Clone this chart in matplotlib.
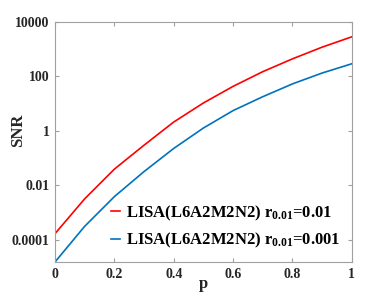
import numpy as np
import matplotlib
matplotlib.use("Agg")
import matplotlib.pyplot as plt

p = [0.0, 0.1, 0.2, 0.3, 0.4, 0.5, 0.6, 0.7, 0.8, 0.9, 1.0]
log_snr_r001 = [-3.78, -2.50, -1.41, -0.53, 0.32, 1.02, 1.63, 2.17, 2.64, 3.07, 3.45]
log_snr_r0001 = [-4.82, -3.51, -2.42, -1.50, -0.65, 0.10, 0.74, 1.25, 1.72, 2.12, 2.46]
snr_r001 = [10 ** v for v in log_snr_r001]
snr_r0001 = [10 ** v for v in log_snr_r0001]
labels = [r"LISA(L6A2M2N2) r$_{\mathbf{0.01}}$=0.01",
          r"LISA(L6A2M2N2) r$_{\mathbf{0.01}}$=0.001"]
yticks = [1e-4, 1e-2, 1, 1e2, 1e4]
yticklabels = ["0.0001", "0.01", "1", "100", "10000"]
xticks = [0, 0.2, 0.4, 0.6, 0.8, 1]
xticklabels = ["0", "0.2", "0.4", "0.6", "0.8", "1"]

plt.rcParams['font.family'] = ['Liberation Serif', 'DejaVu Serif']
plt.rcParams['font.weight'] = 'bold'
plt.rcParams['mathtext.fontset'] = 'custom'
plt.rcParams['mathtext.rm'] = 'Liberation Serif:bold'
plt.rcParams['mathtext.bf'] = 'Liberation Serif:bold'
plt.rcParams['mathtext.it'] = 'Liberation Serif:bold'

fig = plt.figure(figsize=(3.82, 2.95), dpi=100)
ax = fig.add_axes([0.144, 0.112, 0.777, 0.814])
ax.plot(p, snr_r001, color=(1, 0, 0), lw=1.2, label=labels[0])
ax.plot(p, snr_r0001, color=(0, 0.447, 0.741), lw=1.2, label=labels[1])
ax.set_yscale('log')
ax.set_xlim(0, 1)
ax.set_ylim(snr_r0001[0], 1e4)
ax.set_yticks(yticks)
ax.set_yticklabels(yticklabels)
ax.yaxis.set_minor_locator(matplotlib.ticker.NullLocator())
ax.set_xticks(xticks)
ax.set_xticklabels(xticklabels)
for s in ax.spines.values():
    s.set_color('#a0a0a0')
    s.set_linewidth(0.8)
ax.tick_params(direction='in', top=True, right=True, color='#a0a0a0',
               length=3, labelsize=10, labelcolor='#262626', pad=4)
for lab in ax.get_xticklabels() + ax.get_yticklabels():
    lab.set_fontweight('bold')
ax.set_xlabel('p', fontsize=12, fontweight='bold', color='#262626')
ax.set_ylabel('SNR', fontsize=12, fontweight='bold', color='#262626')
ax.xaxis.set_label_coords(0.5, -0.058)
ax.yaxis.set_label_coords(-0.125, 0.55)
ax.yaxis.label.set_va('center')
leg = ax.legend(loc='lower right', frameon=False, fontsize=12, handlelength=0.55,
                handletextpad=0.36, labelspacing=0.5, borderaxespad=0.3,
                bbox_to_anchor=(1.0, 0.0))
for t in leg.get_texts():
    t.set_color('#000000')
    t.set_fontweight('bold')
fig.savefig('out.png', dpi=100)
